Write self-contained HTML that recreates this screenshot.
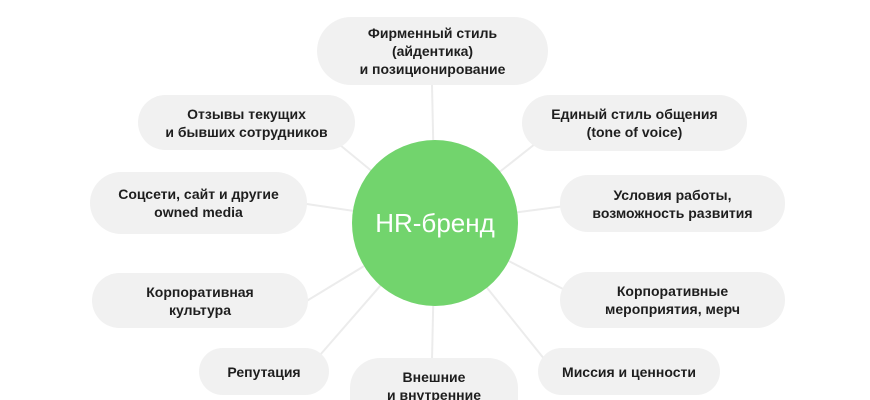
<!DOCTYPE html>
<html style="overflow:hidden;width:870px;height:400px"><head><meta charset="utf-8"><style>
body{margin:0;width:870px;height:400px;background:#fff;overflow:hidden;position:relative;font-family:"Liberation Sans",sans-serif}
.b{position:absolute;background:#f1f1f1;border-radius:30px;display:flex;align-items:center;justify-content:center;text-align:center;font-size:14px;font-weight:bold;color:#1e1e1e;line-height:18px}
svg{position:absolute;left:0;top:0}
.c{position:absolute;left:352px;top:140px;width:166px;height:166px;border-radius:50%;background:#72d46d;color:#fff;font-size:26px;display:flex;align-items:center;justify-content:center}
</style></head><body>
<svg width="870" height="400"><g stroke="#ececec" stroke-width="2">
<line x1="435" y1="223" x2="432" y2="85"/>
<line x1="435" y1="223" x2="340" y2="145"/>
<line x1="435" y1="223" x2="300" y2="203"/>
<line x1="435" y1="223" x2="300" y2="305"/>
<line x1="435" y1="223" x2="320" y2="355"/>
<line x1="435" y1="223" x2="432" y2="360"/>
<line x1="435" y1="223" x2="540" y2="140"/>
<line x1="435" y1="223" x2="565" y2="206"/>
<line x1="435" y1="223" x2="565" y2="290"/>
<line x1="435" y1="223" x2="545" y2="360"/>
</g></svg>
<div class="b" style="left:317px;top:17px;width:231px;height:68px;border-radius:34px">Фирменный стиль<br>(айдентика)<br>и позиционирование</div>
<div class="b" style="left:138px;top:95px;width:217px;height:55px">Отзывы текущих<br>и бывших сотрудников</div>
<div class="b" style="left:90px;top:172px;width:217px;height:62px;border-radius:31px">Соцсети, сайт и другие<br>owned media</div>
<div class="b" style="left:92px;top:273px;width:216px;height:55px">Корпоративная<br>культура</div>
<div class="b" style="left:199px;top:348px;width:130px;height:47px;border-radius:24px">Репутация</div>
<div class="b" style="left:350px;top:358px;width:168px;height:42px;border-radius:30px 30px 0 0;align-items:flex-start"><div style="margin-top:10px">Внешние<br>и внутренние</div></div>
<div class="b" style="left:522px;top:95px;width:225px;height:56px;border-radius:28px">Единый стиль общения<br>(tone of voice)</div>
<div class="b" style="left:560px;top:175px;width:225px;height:57px;border-radius:28px">Условия работы,<br>возможность развития</div>
<div class="b" style="left:560px;top:272px;width:225px;height:56px;border-radius:28px">Корпоративные<br>мероприятия, мерч</div>
<div class="b" style="left:538px;top:348px;width:182px;height:47px;border-radius:24px">Миссия и ценности</div>
<div class="c">HR-бренд</div>
</body></html>
